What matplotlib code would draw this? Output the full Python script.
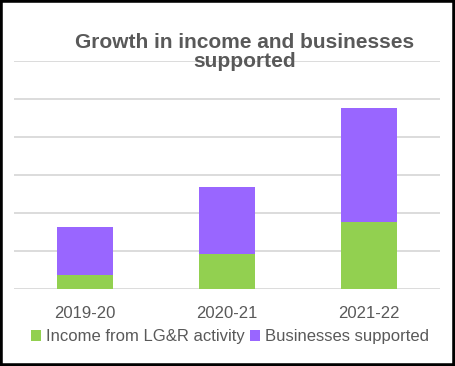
import matplotlib
matplotlib.use("Agg")
import matplotlib.pyplot as plt
from matplotlib.patches import Rectangle
import numpy as np

# Data (arbitrary units - no axis labels shown)
years = ["2019-20", "2020-21", "2021-22"]
income = [0.37, 0.92, 1.77]
businesses = [1.26, 1.77, 3.0]

title = "Growth in income and businesses\nsupported"
text_color = "#595959"
green = "#92D050"
purple = "#9966FF"

plt.rcParams['font.family'] = ['Liberation Sans', 'DejaVu Sans']

fig = plt.figure(figsize=(4.55, 3.66), dpi=100)
ax = fig.add_axes([14 / 455, 1 - 289 / 366, 426 / 455, 228 / 366])

x = np.arange(len(years))
ax.bar(x, income, width=0.4, color=green, label="Income from LG&R activity", zorder=3)
ax.bar(x, businesses, width=0.4, bottom=income, color=purple,
       label="Businesses supported", zorder=3)

ax.set_xlim(-0.5, 2.5)
ax.set_ylim(0, 6)
ax.set_yticks(np.arange(0, 7, 1))
ax.yaxis.grid(True, color="#D9D9D9", linewidth=1.3, zorder=0)
ax.tick_params(axis="y", left=False, labelleft=False)
ax.tick_params(axis="x", bottom=False, labelsize=12, labelcolor=text_color, pad=9)
ax.set_xticks(x)
ax.set_xticklabels(years)
for s in ax.spines.values():
    s.set_visible(False)

# title sits over the grid, like in the original
fig.text(245 / 455, 1 - 52 / 366, title, ha="center", va="center",
         fontsize=15, fontweight="bold", color=text_color, linespacing=1.0,
         zorder=10)

leg = fig.legend(loc="center", bbox_to_anchor=(230 / 455, 1 - 337 / 366), ncol=2,
                 frameon=False, fontsize=12, handlelength=0.6, handleheight=0.6,
                 handletextpad=0.3, columnspacing=0.35)
for t in leg.get_texts():
    t.set_color(text_color)

# outer black border
fig.patches.append(Rectangle((0, 0), 1, 1, transform=fig.transFigure,
                             fill=False, edgecolor="black", linewidth=4))

fig.savefig("out.png", dpi=100)
